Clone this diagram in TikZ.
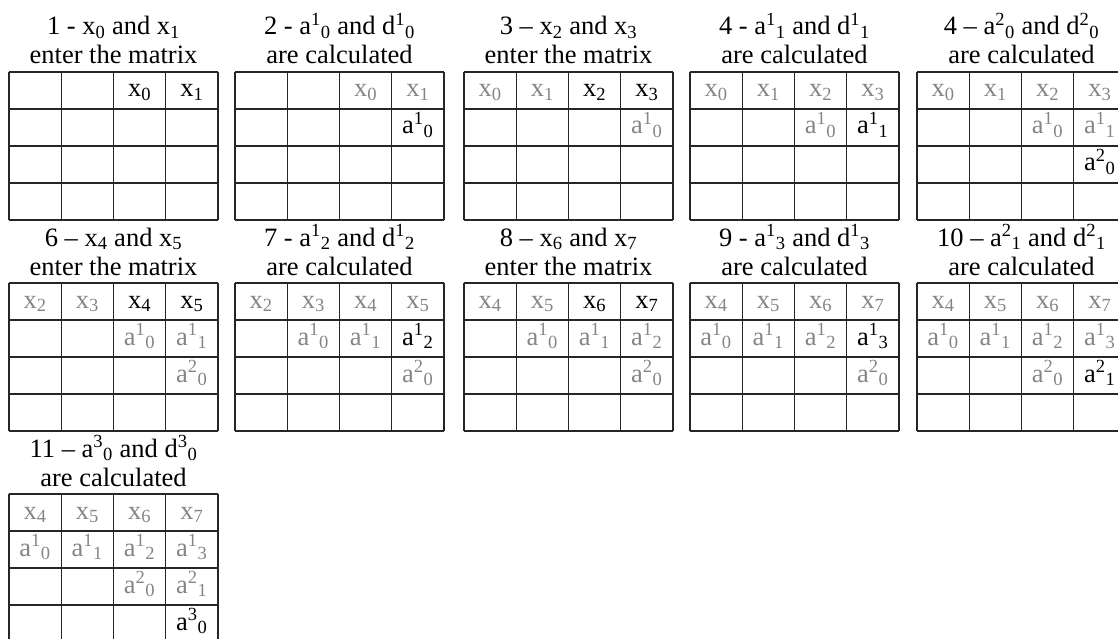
\documentclass[tikz,border=0pt]{standalone}
\usepackage{fontspec}
\setmainfont{Liberation Serif}
\tikzset{
  gridline/.style={black!85, line width=1.3pt},
  ttl/.style={font=\fontsize{26.5}{30}\selectfont, anchor=base, inner sep=0pt},
  % entries already in the matrix
  old/.style={font=\fontsize{26.5}{30}\selectfont, text=black!48, anchor=base, inner sep=0pt},
  % entries added at this step
  new/.style={font=\fontsize{26.5}{30}\selectfont, text=black, anchor=base, inner sep=0pt},
}
\newcommand{\xval}[1]{x\textsubscript{#1}}
\newcommand{\supsub}[3]{#1\textsuperscript{#2}\textsubscript{#3}}
% name, left, top, title line 1, title line 2, entries row/col/style/text
\newcommand{\steppanel}[6]{%
  \foreach \i in {0,...,4} \draw[gridline] (#2,#3+\i*37) -- ++(209,0);
  \foreach \j in {0,...,4} \draw[gridline] (#2+\j*52.25,#3) -- ++(0,148);
  \node[ttl] (#1-t1) at (#2+104.5,#3-37) {#4};
  \node[ttl] (#1-t2) at (#2+104.5,#3-8) {#5};
  \foreach \row/\col/\sty/\txt in {#6}
    \node[\sty] (#1-\row\col) at (#2+\col*52.25+26.1,#3+\row*37+25) {\txt};
}

\begin{document}
\begin{tikzpicture}[x=1pt, y=-1pt]
  \useasboundingbox (0,0) rectangle (1118,639);
  \clip (0,0) rectangle (1118,639);
  % first row
  \steppanel{p1}{9}{72}{1 - \xval{0} and \xval{1}}{enter the matrix}
    {0/2/new/\xval{0}, 0/3/new/\xval{1}}
  \steppanel{p2}{235}{72}{2 - \supsub{a}{1}{0} and \supsub{d}{1}{0}}{are calculated}
    {0/2/old/\xval{0}, 0/3/old/\xval{1}, 1/3/new/\supsub{a}{1}{0}}
  \steppanel{p3}{464}{72}{3 -- \xval{2} and \xval{3}}{enter the matrix}
    {0/0/old/\xval{0}, 0/1/old/\xval{1}, 0/2/new/\xval{2}, 0/3/new/\xval{3},
     1/3/old/\supsub{a}{1}{0}}
  \steppanel{p4}{690}{72}{4 - \supsub{a}{1}{1} and \supsub{d}{1}{1}}{are calculated}
    {0/0/old/\xval{0}, 0/1/old/\xval{1}, 0/2/old/\xval{2}, 0/3/old/\xval{3},
     1/2/old/\supsub{a}{1}{0}, 1/3/new/\supsub{a}{1}{1}}
  \steppanel{p5}{917}{72}{4 -- \supsub{a}{2}{0} and \supsub{d}{2}{0}}{are calculated}
    {0/0/old/\xval{0}, 0/1/old/\xval{1}, 0/2/old/\xval{2}, 0/3/old/\xval{3},
     1/2/old/\supsub{a}{1}{0}, 1/3/old/\supsub{a}{1}{1}, 2/3/new/\supsub{a}{2}{0}}
  % second row
  \steppanel{p6}{9}{283}{6 -- \xval{4} and \xval{5}}{enter the matrix}
    {0/0/old/\xval{2}, 0/1/old/\xval{3}, 0/2/new/\xval{4}, 0/3/new/\xval{5},
     1/2/old/\supsub{a}{1}{0}, 1/3/old/\supsub{a}{1}{1}, 2/3/old/\supsub{a}{2}{0}}
  \steppanel{p7}{235}{283}{7 - \supsub{a}{1}{2} and \supsub{d}{1}{2}}{are calculated}
    {0/0/old/\xval{2}, 0/1/old/\xval{3}, 0/2/old/\xval{4}, 0/3/old/\xval{5},
     1/1/old/\supsub{a}{1}{0}, 1/2/old/\supsub{a}{1}{1}, 1/3/new/\supsub{a}{1}{2},
     2/3/old/\supsub{a}{2}{0}}
  \steppanel{p8}{464}{283}{8 -- \xval{6} and \xval{7}}{enter the matrix}
    {0/0/old/\xval{4}, 0/1/old/\xval{5}, 0/2/new/\xval{6}, 0/3/new/\xval{7},
     1/1/old/\supsub{a}{1}{0}, 1/2/old/\supsub{a}{1}{1}, 1/3/old/\supsub{a}{1}{2},
     2/3/old/\supsub{a}{2}{0}}
  \steppanel{p9}{690}{283}{9 - \supsub{a}{1}{3} and \supsub{d}{1}{3}}{are calculated}
    {0/0/old/\xval{4}, 0/1/old/\xval{5}, 0/2/old/\xval{6}, 0/3/old/\xval{7},
     1/0/old/\supsub{a}{1}{0}, 1/1/old/\supsub{a}{1}{1}, 1/2/old/\supsub{a}{1}{2},
     1/3/new/\supsub{a}{1}{3}, 2/3/old/\supsub{a}{2}{0}}
  \steppanel{p10}{917}{283}{10 -- \supsub{a}{2}{1} and \supsub{d}{2}{1}}{are calculated}
    {0/0/old/\xval{4}, 0/1/old/\xval{5}, 0/2/old/\xval{6}, 0/3/old/\xval{7},
     1/0/old/\supsub{a}{1}{0}, 1/1/old/\supsub{a}{1}{1}, 1/2/old/\supsub{a}{1}{2},
     1/3/old/\supsub{a}{1}{3}, 2/2/old/\supsub{a}{2}{0}, 2/3/new/\supsub{a}{2}{1}}
  % third row
  \steppanel{p11}{9}{494}{11 -- \supsub{a}{3}{0} and \supsub{d}{3}{0}}{are calculated}
    {0/0/old/\xval{4}, 0/1/old/\xval{5}, 0/2/old/\xval{6}, 0/3/old/\xval{7},
     1/0/old/\supsub{a}{1}{0}, 1/1/old/\supsub{a}{1}{1}, 1/2/old/\supsub{a}{1}{2},
     1/3/old/\supsub{a}{1}{3}, 2/2/old/\supsub{a}{2}{0}, 2/3/old/\supsub{a}{2}{1},
     3/3/new/\supsub{a}{3}{0}}
\end{tikzpicture}
\end{document}
